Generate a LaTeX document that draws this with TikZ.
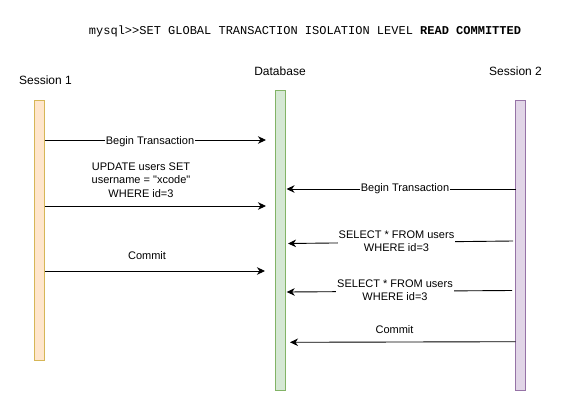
\documentclass[tikz,border=0pt]{standalone}
\usepackage{fontspec}
\setmainfont{Liberation Sans}
\newfontfamily\monofont{Liberation Mono}
\usetikzlibrary{arrows.meta}
\definecolor{sAfill}{HTML}{FFE6CC}
\definecolor{sAline}{HTML}{D6B656}
\definecolor{dbfill}{HTML}{D5E8D4}
\definecolor{dbline}{HTML}{82B366}
\definecolor{sBfill}{HTML}{E1D5E7}
\definecolor{sBline}{HTML}{9673A6}
\tikzset{
  lbl/.style={font=\fontsize{11}{13.3}\selectfont, align=center, inner sep=1pt},
  onlbl/.style={lbl, fill=white},
  head/.style={font=\fontsize{12}{14}\selectfont, inner sep=1pt},
  msg/.style={-{Stealth[length=8pt,width=7.5pt,inset=2.5pt]}, line width=0.9pt},
  bar/.style={draw, minimum width=10pt, inner sep=0pt, line width=0.8pt}
}
\begin{document}
\begin{tikzpicture}[x=1pt,y=-1pt]
\useasboundingbox (0,0) rectangle (561,401);
\node[font=\monofont\fontsize{12}{14}\selectfont, inner sep=0pt] (title) at (305,31)
  {mysql>>SET GLOBAL TRANSACTION ISOLATION LEVEL \textbf{READ COMMITTED}};
\node[head] (h1) at (45.5,80) {Session 1};
\node[head] (hdb) at (280,71) {Database};
\node[head] (h2) at (515.5,71) {Session 2};
\node[bar, fill=sAfill, draw=sAline, minimum height=260pt] (s1) at (39.5,230) {};
\node[bar, fill=dbfill, draw=dbline, minimum height=300pt] (db) at (280.5,240) {};
\node[bar, fill=sBfill, draw=sBline, minimum height=290pt] (s2) at (520.5,245) {};
% endpoints
\coordinate (a1s) at (44.5,140);   \coordinate (a1e) at (266,140);
\coordinate (a2s) at (44.5,206);   \coordinate (a2e) at (266,206);
\coordinate (a3s) at (44.5,271);   \coordinate (a3e) at (265,271);
\coordinate (b1s) at (515.5,189);  \coordinate (b1e) at (286.5,189);
\coordinate (b2s) at (513,241);    \coordinate (b2e) at (288,243.5);
\coordinate (b3s) at (512,290.5);  \coordinate (b3e) at (286.7,292);
\coordinate (b4s) at (515.5,341.7);\coordinate (b4e) at (290,342.3);
% session 1 messages
\draw[msg] (a1s) -- (a1e);
\node[onlbl] (l1) at (150,142) {Begin Transaction};
\draw[msg] (a2s) -- (a2e);
\node[lbl] (l2) at (141,180) {UPDATE users SET\\username = \textquotedbl xcode\textquotedbl\\WHERE id=3};
\draw[msg] (a3s) -- (a3e);
\node[lbl] (l3) at (147,256) {Commit};
% session 2 messages
\draw[msg] (b1s) -- (b1e);
\node[onlbl] (m1) at (405,189) {Begin Transaction};
\draw[msg] (b2s) -- (b2e);
\node[onlbl] (m2) at (396.5,241.5) {SELECT * FROM users\\WHERE id=3};
\draw[msg] (b3s) -- (b3e);
\node[onlbl] (m3) at (395,290.5) {SELECT * FROM users\\WHERE id=3};
\draw[msg] (b4s) -- (b4e);
\node[lbl] (m4) at (394.5,330) {Commit};
\end{tikzpicture}
\end{document}
